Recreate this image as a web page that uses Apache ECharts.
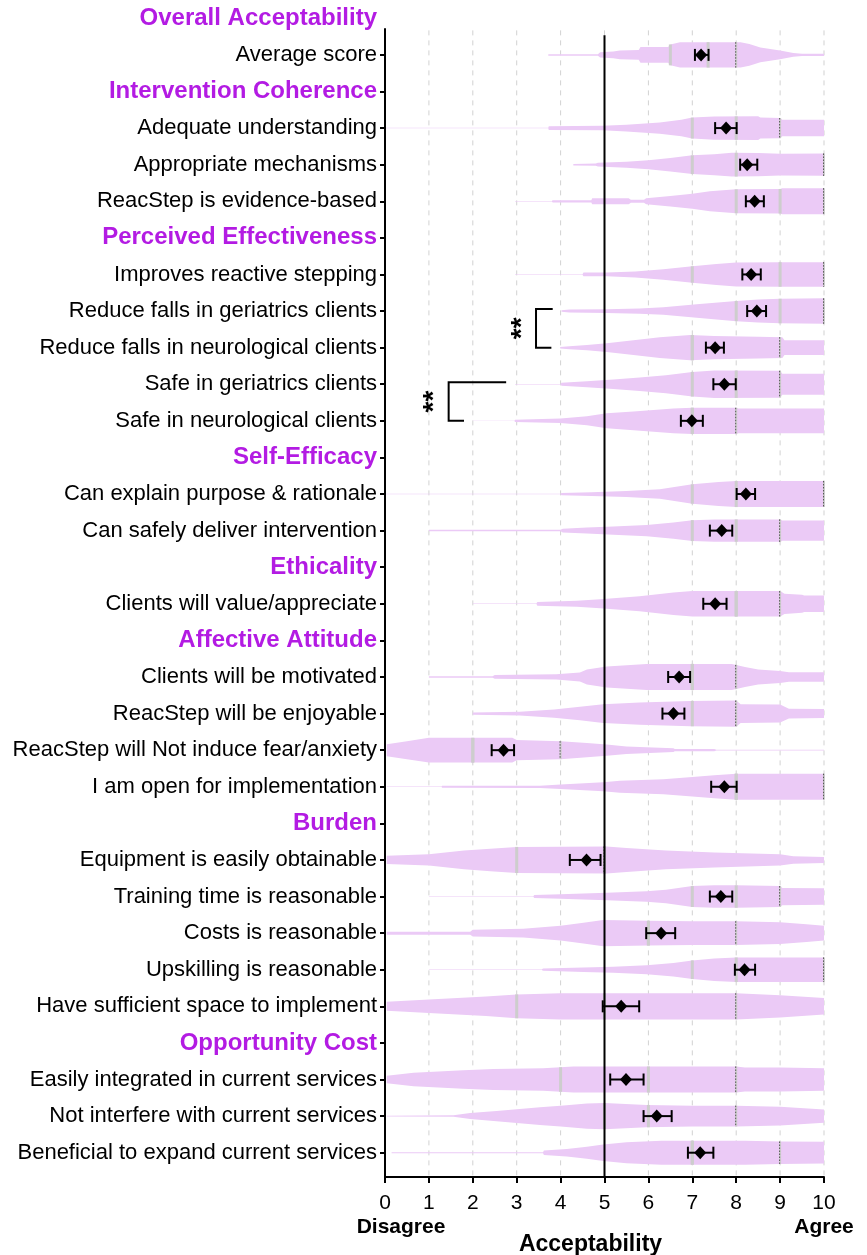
<!DOCTYPE html>
<html>
<head>
<meta charset="utf-8">
<script src="https://cdn.jsdelivr.net/npm/echarts@6.0.0/dist/echarts.min.js"></script>
<style>
  html, body { margin: 0; padding: 0; background: #fff; }
  #chart { width: 867px; height: 1255px; }
</style>
</head>
<body>
<div id="chart"></div>
<script>
// Section headings and how many statements sit under each
const sectionNames = [
  'Overall Acceptability', 'Intervention Coherence', 'Perceived Effectiveness',
  'Self-Efficacy', 'Ethicality', 'Affective Attitude', 'Burden', 'Opportunity Cost'
];
const sectionSizes = [1, 3, 5, 2, 1, 4, 5, 3];

// Statements, in display order
const itemLabels = [
  'Average score',
  'Adequate understanding', 'Appropriate mechanisms', 'ReacStep is evidence-based',
  'Improves reactive stepping', 'Reduce falls in geriatrics clients',
  'Reduce falls in neurological clients', 'Safe in geriatrics clients', 'Safe in neurological clients',
  'Can explain purpose & rationale', 'Can safely deliver intervention',
  'Clients will value/appreciate',
  'Clients will be motivated', 'ReacStep will be enjoyable',
  'ReacStep will Not induce fear/anxiety', 'I am open for implementation',
  'Equipment is easily obtainable', 'Training time is reasonable', 'Costs is reasonable',
  'Upskilling is reasonable', 'Have sufficient space to implement',
  'Easily integrated in current services', 'Not interfere with current services',
  'Beneficial to expand current services'
];

// Mean score with 95% CI
const meanScores = [7.20, 7.77, 8.25, 8.42, 8.34, 8.47, 7.52, 7.73, 6.99, 8.22, 7.67, 7.52,
                    6.70, 6.57, 2.70, 7.73, 4.59, 7.65, 6.29, 8.19, 5.38, 5.49, 6.19, 7.18];
const ciLower    = [7.06, 7.52, 8.09, 8.22, 8.14, 8.25, 7.31, 7.48, 6.74, 8.01, 7.40, 7.25,
                    6.45, 6.32, 2.43, 7.43, 4.21, 7.40, 5.95, 7.97, 4.96, 5.13, 5.89, 6.90];
const ciUpper    = [7.37, 8.01, 8.48, 8.63, 8.56, 8.68, 7.72, 7.99, 7.24, 8.43, 7.91, 7.78,
                    6.95, 6.82, 2.94, 8.01, 4.91, 7.91, 6.61, 8.43, 5.79, 5.89, 6.53, 7.48];

// Quartiles
const quartile1 = [6.5, 7, 7, 8, 7, 8, 7, 7, 7, 7, 7, 8, 7, 5, 2, 8, 3, 7, 6, 7, 3, 4, 5, 7];
const medians   = [7.36, 8, 8, 9, 9, 9, 7, 8, 7, 8, 8, 8, 7, 7, 2, 8, 5, 8, 6, 8, 5, 6, 6, 7];
const quartile3 = [8, 9, 10, 10, 10, 10, 9, 9, 8, 10, 9, 9, 8, 8, 4, 10, 5, 9, 8, 10, 8, 8, 8, 9];

// Violin density profiles: [score, relative density]
const densityProfiles = [
  [[3.72,2],[4.85,2],[4.9,7],[5.2,9],[5.35,12],[5.78,13],[5.82,21],[6.45,21],[6.5,28],[6.72,34],[8.1,34],[8.3,29],[8.55,20],[9.0,12],[9.3,5],[9.5,3],[10,3]],
  [[0,0.6],[3.72,0.6],[3.73,5],[4.95,6],[5.5,9],[6.26,15],[6.75,22],[7.0,28],[7.5,31],[8.5,32],[8.55,28],[9.0,27],[9.05,22],[10,22]],
  [[4.29,2],[4.8,3],[4.85,5],[5.5,8],[6.0,12],[6.5,18],[7.0,25],[7.5,28],[7.9,32],[8.5,31],[9.0,29],[10,30]],
  [[2.96,0.6],[3.8,0.6],[3.82,3],[4.7,3],[4.72,8],[5.55,8],[5.6,4],[5.9,4],[5.95,8],[6.5,14],[7.0,20],[7.4,27],[8.0,32],[9.0,33],[9.05,35],[10,35]],
  [[2.96,0.6],[4.5,0.6],[4.52,5],[5.05,5],[5.7,8],[6.34,14],[7.0,22],[7.55,28],[8.0,32],[9.0,33],[10,33]],
  [[4.02,2],[4.2,4],[5.05,5],[5.8,7],[6.34,10],[7.1,18],[8.0,27],[8.5,31],[9.0,33],[10,34]],
  [[3.99,2],[4.2,4],[4.6,7],[5.05,12],[5.66,20],[6.26,28],[6.95,34],[7.5,31],[8.5,29],[9.05,28],[9.1,20],[10,20]],
  [[2.96,0.6],[4.0,0.6],[4.02,4],[4.6,8],[5.2,13],[5.8,18],[6.4,24],[7.0,33],[7.5,37],[9.0,36],[9.05,28],[10,28]],
  [[2.0,0.5],[2.95,0.5],[2.96,3],[4.0,6],[4.6,12],[5.05,20],[5.66,25],[6.57,33],[7.0,35],[8.0,35],[8.05,33],[10,33]],
  [[0,0.5],[4.0,0.5],[4.02,3],[4.7,5],[5.5,8],[6.26,13],[7.0,26],[7.6,32],[8.0,35],[10,35]],
  [[1.0,2],[4.0,2],[4.05,5],[4.6,8],[5.2,11],[5.96,15],[6.57,22],[7.0,28],[7.5,30],[9.0,30],[9.05,27],[10,27]],
  [[2.0,0.5],[3.45,0.5],[3.47,5],[4.37,8],[4.9,12],[5.8,20],[6.57,30],[7.0,34],[9.0,34],[9.1,27],[9.5,24],[9.55,22],[10,22]],
  [[1.0,2],[2.45,2],[2.5,5],[3.9,7],[4.44,12],[4.6,20],[5.05,28],[5.96,35],[7.9,35],[8.2,27],[8.5,20],[9.0,16],[9.2,13],[10,13]],
  [[2.0,3],[3.07,5],[3.85,11],[4.44,18],[4.97,25],[5.8,30],[6.95,34],[8.0,35],[8.1,25],[9.0,24],[9.2,13],[10,12]],
  [[0.04,16],[0.5,24],[1.0,33],[2.9,33],[3.0,27],[4.0,24],[4.6,19],[5.05,15],[5.5,10],[6.57,5],[6.6,3],[7.5,3],[7.55,1],[10,1]],
  [[0.04,0.6],[1.29,0.6],[1.3,2.5],[3.53,3],[4.0,6],[4.97,12],[5.35,16],[6.34,20],[7.0,26],[7.5,31],[8.0,35],[10,35]],
  [[0.04,11],[1.0,15],[1.8,25],[2.4,30],[3.0,35],[5.05,36],[5.5,32],[6.4,25],[7.5,20],[9.0,15],[9.3,10],[10,8]],
  [[1.0,0.6],[3.38,0.6],[3.4,4],[4.0,6],[4.52,8],[5.05,10],[5.96,14],[6.4,18],[7.0,28],[7.5,30],[8.0,30],[9.0,28],[9.05,23],[10,22]],
  [[0.04,4],[1.94,4],[2.0,9],[3.15,12],[4.0,20],[4.52,28],[4.97,35],[6.0,33],[7.0,32],[8.0,32],[9.0,29],[9.6,24],[10,20]],
  [[1.0,0.6],[3.57,0.6],[3.6,3],[4.52,6],[5.2,8],[5.96,12],[6.57,18],[7.0,25],[7.5,30],[8.0,33],[10,33]],
  [[0.04,12],[1.0,18],[2.3,26],[3.0,32],[4.0,35],[8.0,35],[9.0,30],[10,22]],
  [[0.04,10],[0.65,18],[1.78,25],[2.47,28],[3.6,30],[4.29,35],[8.0,35],[8.2,32],[9.0,32],[10,30]],
  [[0.04,1],[1.56,2],[1.94,8],[2.54,14],[3.53,24],[4.0,28],[4.6,34],[5.0,35],[5.96,30],[7.0,28],[8.0,28],[9.0,25],[10,18]],
  [[0.15,1.5],[3.6,1.5],[3.62,6],[4.14,10],[4.6,16],[4.97,22],[5.5,28],[6.3,32],[8.2,32],[9.0,30],[10,29]]
];

// Pairwise comparisons marked with brackets: [item a, item b, label]
const significancePairs = [[5, 6, '**'], [7, 8, '**']];

// Scale
const xTicks = [0, 1, 2, 3, 4, 5, 6, 7, 8, 9, 10];
const scaleAnchors = ['Disagree', 'Agree'];
const neutralScore = 5;

// ---- build row layout (section headers interleaved with statements) ----
const rowLabels = [];
const itemRows = [];
let itemCursor = 0;
sectionNames.forEach((name, s) => {
  rowLabels.push(name);
  for (let k = 0; k < sectionSizes[s]; k++) {
    itemRows.push(rowLabels.length);
    rowLabels.push(itemLabels[itemCursor++]);
  }
});

const FONT = "'Liberation Sans', Arial, sans-serif";
const VIOLIN = '#ebcaf6';
const AXIS_OFFSET = 6;
const SCALE_MIN = xTicks[0], SCALE_MAX = xTicks[xTicks.length - 1];

function densityAt(prof, v) {
  if (v <= prof[0][0]) return prof[0][1];
  for (let k = 0; k < prof.length - 1; k++) {
    const a = prof[k], b = prof[k + 1];
    if (v >= a[0] && v <= b[0]) {
      const t = b[0] === a[0] ? 0 : (v - a[0]) / (b[0] - a[0]);
      return a[1] + t * (b[1] - a[1]);
    }
  }
  return prof[prof.length - 1][1];
}

function frameTop(api) {
  return api.coord([0, 0])[1];
}

const chart = echarts.init(document.getElementById('chart'), null, { renderer: 'canvas' });

chart.setOption({
  animation: false,
  backgroundColor: '#ffffff',
  grid: { left: 385, right: 43, top: 0, bottom: 84, containLabel: false, outerBoundsMode: 'none' },
  xAxis: [
    {
      // numeric scale
      type: 'value', min: SCALE_MIN, max: SCALE_MAX, interval: 1, offset: AXIS_OFFSET,
      axisLine: { show: true, lineStyle: { color: '#000', width: 2 } },
      axisTick: { show: true, length: 6, lineStyle: { color: '#000', width: 2 } },
      splitLine: { show: false },
      axisLabel: {
        margin: 16, color: '#000', fontFamily: FONT, fontSize: 21,
        showMinLabel: true, showMaxLabel: true
      },
      name: 'Acceptability', nameLocation: 'middle', nameGap: 56, nameMoveOverlap: false,
      nameTextStyle: { fontFamily: FONT, fontSize: 23, fontWeight: 'bold', color: '#000', padding: [0, 28, 0, 0] }
    },
    {
      // verbal anchors at both ends of the scale
      type: 'value', min: SCALE_MIN, max: SCALE_MAX, interval: SCALE_MAX - SCALE_MIN, offset: AXIS_OFFSET,
      position: 'bottom',
      axisLine: { show: false }, axisTick: { show: false }, splitLine: { show: false },
      axisLabel: {
        margin: 40, showMinLabel: true, showMaxLabel: true,
        formatter: v => v === SCALE_MIN ? '{d|' + scaleAnchors[0] + '}' : '{a|' + scaleAnchors[1] + '}',
        rich: {
          d: { fontFamily: FONT, fontSize: 21, fontWeight: 'bold', color: '#000', padding: [0, 0, 0, 32] },
          a: { fontFamily: FONT, fontSize: 21, fontWeight: 'bold', color: '#000' }
        }
      }
    }
  ],
  yAxis: {
    type: 'category', inverse: true, data: rowLabels,
    axisLine: { show: false },
    axisTick: { show: true, alignWithLabel: true, length: 5, interval: idx => idx !== 0,
                lineStyle: { color: '#000', width: 2 } },
    splitLine: { show: false },
    axisLabel: {
      interval: 0, margin: 8,
      formatter: v => sectionNames.indexOf(v) >= 0 ? '{h|' + v + '}' : '{n|' + v + '}',
      rich: {
        h: { fontFamily: FONT, fontSize: 24, fontWeight: 'bold', color: '#b31be3' },
        n: { fontFamily: FONT, fontSize: 22, color: '#000' }
      }
    }
  },
  series: [
    {
      // dashed vertical grid lines
      type: 'custom', z: 1, silent: true,
      data: [[0, 0]], encode: { x: 0, y: 1 },
      renderItem: (params, api) => {
        const band = api.size([0, 1])[1];
        const top = frameTop(api) + band * 0.33;
        const bottom = params.coordSys.y + params.coordSys.height + AXIS_OFFSET;
        const children = xTicks.filter(v => v > SCALE_MIN).map(v => {
          const x = api.coord([v, 0])[0];
          return { type: 'line', shape: { x1: x, y1: top, x2: x, y2: bottom },
                   style: { stroke: '#d2d2d2', lineWidth: 1, lineDash: [5, 5] } };
        });
        return { type: 'group', children };
      }
    },
    {
      // violins with quartile marks
      type: 'custom', z: 2, silent: true,
      data: itemRows.map((r, i) => [meanScores[i], r]), encode: { x: 0, y: 1 },
      renderItem: (params, api) => {
        const i = params.dataIndex;
        const row = itemRows[i];
        const cy = api.coord([0, row])[1];
        const unit = api.size([0, 1])[1] / 98;
        const prof = densityProfiles[i];
        const top = prof.map(p => [api.coord([p[0], row])[0], cy - p[1] * unit]);
        const bot = prof.slice().reverse().map(p => [api.coord([p[0], row])[0], cy + p[1] * unit]);
        const children = [{ type: 'polygon', shape: { points: top.concat(bot) }, style: { fill: VIOLIN } }];
        [quartile1[i], medians[i]].forEach(q => {
          const x = api.coord([q, row])[0];
          const h = densityAt(prof, q) * unit;
          children.push({ type: 'line', shape: { x1: x, y1: cy - h, x2: x, y2: cy + h },
                          style: { stroke: '#cdcdcd', lineWidth: 3 } });
        });
        const q3 = quartile3[i];
        const x3 = api.coord([q3, row])[0];
        const h3 = densityAt(prof, q3) * unit;
        children.push({ type: 'line', shape: { x1: x3, y1: cy - h3, x2: x3, y2: cy + h3 },
                        style: { stroke: '#cdcdcd', lineWidth: 2 } });
        children.push({ type: 'line', shape: { x1: x3 - 0.5, y1: cy - h3, x2: x3 - 0.5, y2: cy + h3 },
                        style: { stroke: '#555', lineWidth: 1, lineDash: [1.5, 1.5] } });
        return { type: 'group', children };
      }
    },
    {
      // y axis line and neutral reference line
      type: 'custom', z: 3, silent: true,
      data: [[neutralScore, 0]], encode: { x: 0, y: 1 },
      renderItem: (params, api) => {
        const band = api.size([0, 1])[1];
        const y0 = frameTop(api);
        const bottom = params.coordSys.y + params.coordSys.height + AXIS_OFFSET;
        const xAxis0 = api.coord([SCALE_MIN, 0])[0];
        const xN = api.coord([neutralScore, 0])[0];
        return { type: 'group', children: [
          { type: 'line', shape: { x1: xAxis0, y1: y0 + band * 0.27, x2: xAxis0, y2: bottom + 1 },
            style: { stroke: '#000', lineWidth: 2 } },
          { type: 'line', shape: { x1: xN, y1: y0 + band * 0.46, x2: xN, y2: bottom },
            style: { stroke: '#000', lineWidth: 2 } }
        ] };
      }
    },
    {
      // mean and 95% CI
      type: 'custom', z: 4, silent: true,
      data: itemRows.map((r, i) => [meanScores[i], r]), encode: { x: 0, y: 1 },
      renderItem: (params, api) => {
        const i = params.dataIndex;
        const row = itemRows[i];
        const [mx, cy] = api.coord([meanScores[i], row]);
        const lo = api.coord([ciLower[i], row])[0];
        const hi = api.coord([ciUpper[i], row])[0];
        const stroke = { stroke: '#000', lineWidth: 2 };
        return { type: 'group', children: [
          { type: 'line', shape: { x1: lo, y1: cy, x2: hi, y2: cy }, style: stroke },
          { type: 'line', shape: { x1: lo, y1: cy - 6, x2: lo, y2: cy + 6 }, style: stroke },
          { type: 'line', shape: { x1: hi, y1: cy - 6, x2: hi, y2: cy + 6 }, style: stroke },
          { type: 'polygon', shape: { points: [[mx - 6, cy], [mx, cy - 6.5], [mx + 6, cy], [mx, cy + 6.5]] },
            style: { fill: '#000' } }
        ] };
      }
    },
    {
      // significance brackets
      type: 'custom', z: 4, silent: true,
      data: significancePairs.map(p => [0, itemRows[p[0]]]), encode: { x: 0, y: 1 },
      renderItem: (params, api) => {
        const [a, b, label] = significancePairs[params.dataIndex];
        const ra = itemRows[a], rb = itemRows[b];
        const startA = densityProfiles[a][0][0], startB = densityProfiles[b][0][0];
        const endA = startA - 0.2, endB = startB - 0.2;
        const vx = Math.min(endA, endB) - 0.35;
        const ya = api.coord([0, ra])[1] - 2, yb = api.coord([0, rb])[1];
        const xa = api.coord([endA, ra])[0], xb = api.coord([endB, rb])[0];
        const xv = api.coord([vx, ra])[0];
        return { type: 'group', children: [
          { type: 'polyline', shape: { points: [[xa, ya], [xv, ya], [xv, yb], [xb, yb]] },
            style: { stroke: '#000', lineWidth: 2, fill: null } },
          { type: 'text', x: xv - 14, y: (ya + yb) / 2, rotation: Math.PI / 2,
            style: { text: label, font: "bold 28px " + FONT, fill: '#000', align: 'center', verticalAlign: 'middle' } }
        ] };
      }
    }
  ]
});
</script>
</body>
</html>
